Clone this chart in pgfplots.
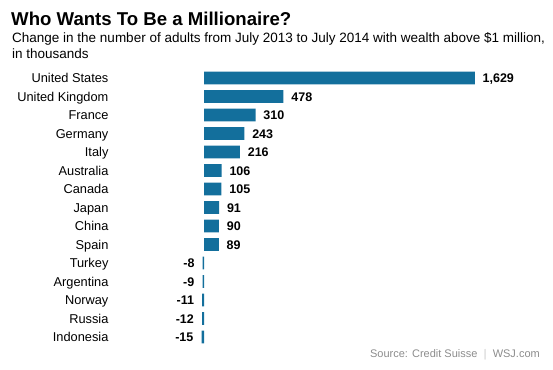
\documentclass[border=0pt]{standalone}
\usepackage{pgfplots}
\pgfplotsset{compat=1.18}
\usepackage{fontspec}
\setmainfont{Liberation Sans}
\definecolor{barblue}{RGB}{19,111,156}
\definecolor{srcgray}{RGB}{140,140,140}
\begin{document}
\begin{tikzpicture}
\useasboundingbox (0pt,0pt) rectangle (553pt,369pt);
\node[anchor=base west,inner sep=0,font=\fontsize{18.6}{18.6}\selectfont\bfseries] at (11pt,343.7pt) {Who Wants To Be a Millionaire?};
\node[anchor=base west,inner sep=0,font=\fontsize{13.5}{13.5}\selectfont] at (12pt,326.3pt) {Change in the number of adults from July 2013 to July 2014 with wealth above \$1 million,};
\node[anchor=base west,inner sep=0,font=\fontsize{13.5}{13.5}\selectfont] at (12pt,310.7pt) {in thousands};
\node[anchor=base east,inner sep=0,font=\fontsize{11}{11}\selectfont,text=srcgray] at (540pt,11.7pt) {Source: Credit Suisse \ $|$ \ WSJ.com};
\begin{axis}[
  at={(112.1pt,22.75pt)}, anchor=south west,
  scale only axis, width=391.07pt, height=277.5pt,
  xmin=-553, xmax=1800, ymin=-0.5, ymax=14.5,
  y dir=reverse,
  xbar, bar width=12.6pt, bar shift=0pt,
  axis line style={draw=none},
  major tick length=0pt,
  xtick=\empty,
  ytick={0,...,14},
  yticklabels={United States,United Kingdom,France,Germany,Italy,Australia,Canada,Japan,China,Spain,Turkey,Argentina,Norway,Russia,Indonesia},
  yticklabel style={font=\fontsize{12.8}{12.8}\selectfont, inner sep=3.5pt, text height=9.2pt, text depth=0pt, inner ysep=0pt},
  clip=false,
  point meta=explicit symbolic,
  nodes near coords,
  every node near coord/.append style={font=\fontsize{12.5}{12.5}\selectfont\bfseries, inner sep=0pt, text height=9pt, text depth=0pt},
]
\addplot[fill=barblue, draw=none, nodes near coords style={anchor=west, xshift=7.7pt}] table[meta=lab] {
x y lab
1629 0 1,629
478 1 478
310 2 310
243 3 243
216 4 216
106 5 106
105 6 105
91 7 91
90 8 90
89 9 89
};
\addplot[fill=barblue, draw=none, nodes near coords style={anchor=east, xshift=-8pt}] table[meta=lab] {
x y lab
-8 10 -8
-9 11 -9
-11 12 -11
-12 13 -12
-15 14 -15
};
\end{axis}
\end{tikzpicture}
\end{document}
